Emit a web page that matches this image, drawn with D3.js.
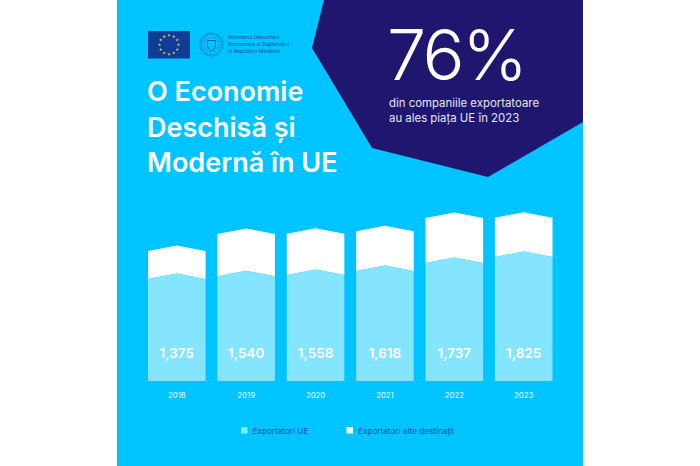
<!DOCTYPE html>
<html>
<head>
<meta charset="utf-8">
<script src="https://cdn.jsdelivr.net/npm/d3@7"></script>
<style>
    html, body { margin: 0; padding: 0; background: #fff; }
    svg { display: block; }
    text { font-family: Inter, "Noto Sans", sans-serif; }
</style>
</head>
<body>
<svg id="svg_chart" width="700" height="466"></svg>
<script>

// Data
const years = ["2018", "2019", "2020", "2021", "2022", "2023"];
const value_labels = ["1,375", "1,540", "1,558", "1,618", "1,737", "1,825"];

// Height of the bars as drawn (the 2018 bar is drawn taller than its label says)
const eu_values = [1500, 1540, 1558, 1618, 1737, 1825];
const other_values = [412, 622, 608, 583, 660, 576];

const legend_labels = ["Exportatori UE", "Exportatori alte destinații"];
const title_lines = ["O Economie", "Deschisă și", "Modernă în UE"];
const sub_lines = ["din companiile exportatoare", "au ales piața UE în 2023"];
const ministry_lines = ["Ministerul Dezvoltării", "Economice și Digitalizării", "al Republicii Moldova"];

// Colors
const my_blue = "#00c4ff",
    my_navy = "#1f1670",
    my_lightblue = "#85e4ff",
    legend_blue = "#1650b4",
    flag_blue = "#103c96",
    flag_yellow = "#e6d84a";

const svg = d3.select("#svg_chart");

// Panel and the dark corner shape
svg.append("rect")
    .attr("x", 117).attr("y", 0)
    .attr("width", 466).attr("height", 466)
    .attr("fill", my_blue);

svg.append("polygon")
    .attr("points", "324,0 312,48 372,148 488,177 583,122 583,0")
    .attr("fill", my_navy);

// Scales
const x_scale = d3.scaleBand()
    .domain(years)
    .range([148, 552.5])
    .paddingInner(0.17);

const y_scale = d3.scaleLinear()
    .domain([0, 2500])
    .range([381, 381 - 2500 * 0.068]);

const peak = 5.5;

// Bar with a chevron top, from bottom value y0 up to y1
function chevron(year, y0, y1, flat_bottom) {
    const x0 = x_scale(year),
        w = x_scale.bandwidth(),
        p = d3.path();
    p.moveTo(x0, y_scale(y1));
    p.lineTo(x0 + w / 2, y_scale(y1) - peak);
    p.lineTo(x0 + w, y_scale(y1));
    p.lineTo(x0 + w, y_scale(y0));
    if (!flat_bottom) p.lineTo(x0 + w / 2, y_scale(y0) - peak);
    p.lineTo(x0, y_scale(y0));
    p.closePath();
    return p.toString();
}

// Draw bars
const bars = svg.append("g").attr("class", "bars");

bars.selectAll("path.other")
    .data(years)
    .enter().append("path")
    .attr("class", "other")
    .attr("d", (d, i) => chevron(d, eu_values[i], eu_values[i] + other_values[i], false))
    .attr("fill", "#fff");

bars.selectAll("path.eu")
    .data(years)
    .enter().append("path")
    .attr("class", "eu")
    .attr("d", (d, i) => chevron(d, 0, eu_values[i], true))
    .attr("fill", my_lightblue);

bars.selectAll("text")
    .data(years)
    .enter().append("text")
    .attr("x", d => x_scale(d) + x_scale.bandwidth() / 2)
    .attr("y", 358)
    .attr("text-anchor", "middle")
    .attr("font-size", 13.5)
    .attr("font-weight", 600)
    .attr("fill", "#fff")
    .text((d, i) => value_labels[i]);

// Year axis
const x_axis = svg.append("g")
    .attr("transform", "translate(0,392.5)")
    .call(d3.axisBottom(x_scale).tickSize(0).tickPadding(0));
x_axis.select(".domain").remove();
x_axis.selectAll("text")
    .attr("font-size", 7.8)
    .attr("dy", "0.71em")
    .style("font-family", "Inter")
    .attr("fill", "#eafaff");

// Title
svg.append("g").selectAll("text")
    .data(title_lines)
    .enter().append("text")
    .attr("x", 147)
    .attr("y", (d, i) => 101 + i * 35.5)
    .attr("font-size", 27)
    .attr("font-weight", 600)
    .attr("fill", "#fff")
    .text(d => d);

// Big number
svg.append("text")
    .attr("x", 387)
    .attr("y", 80)
    .attr("font-size", 70)
    .attr("font-weight", 300)
    .attr("letter-spacing", -2.5)
    .attr("fill", "#fff")
    .text("76%");

svg.append("g").selectAll("text")
    .data(sub_lines)
    .enter().append("text")
    .attr("x", 389)
    .attr("y", (d, i) => 107 + i * 15)
    .attr("font-size", 11.4)
    .attr("fill", "#e6e6f2")
    .text(d => d);

// EU flag
svg.append("rect")
    .attr("x", 148).attr("y", 31)
    .attr("width", 42).attr("height", 27.5)
    .attr("fill", flag_blue);

const star = d3.symbol().type(d3.symbolStar).size(3.5);
svg.append("g").selectAll("path")
    .data(d3.range(12))
    .enter().append("path")
    .attr("d", star)
    .attr("transform", d => {
        const a = d * Math.PI / 6;
        return `translate(${169 + 9.5 * Math.sin(a)},${44.7 - 9.5 * Math.cos(a)})`;
    })
    .attr("fill", flag_yellow);

// Ministry seal
const seal = svg.append("g")
    .attr("transform", "translate(211.5,44.5)")
    .attr("fill", "none")
    .attr("stroke", "#2a6db8");
seal.append("circle").attr("r", 11.7).attr("stroke-width", 0.6);
seal.append("circle").attr("r", 10.2).attr("stroke-width", 1.3).attr("stroke-dasharray", "0.7 0.8");
seal.append("circle").attr("r", 7.6).attr("stroke-width", 0.5);
seal.append("path")
    .attr("d", "M-4,-4 L4,-4 L4,1.5 Q4,4.5 0,6 Q-4,4.5 -4,1.5 Z")
    .attr("stroke", "#1c4f9c")
    .attr("stroke-width", 0.9);

svg.append("g").selectAll("text")
    .data(ministry_lines)
    .enter().append("text")
    .attr("x", 228)
    .attr("y", (d, i) => 39 + i * 7.2)
    .attr("font-size", 5.2)
    .attr("fill", "#1650a0")
    .text(d => d);

// Legend
const legend_x = [241, 346.5],
    legend_colors = [my_lightblue, "#fff"];

const legend = svg.append("g").selectAll("g")
    .data(legend_labels)
    .enter().append("g")
    .attr("transform", (d, i) => `translate(${legend_x[i]},427)`);

legend.append("rect")
    .attr("width", 6.5).attr("height", 6.5)
    .attr("fill", (d, i) => legend_colors[i]);

legend.append("text")
    .attr("x", 11.5)
    .attr("y", 6.6)
    .attr("font-size", 8.2)
    .attr("fill", legend_blue)
    .text(d => d);

</script>
</body>
</html>
